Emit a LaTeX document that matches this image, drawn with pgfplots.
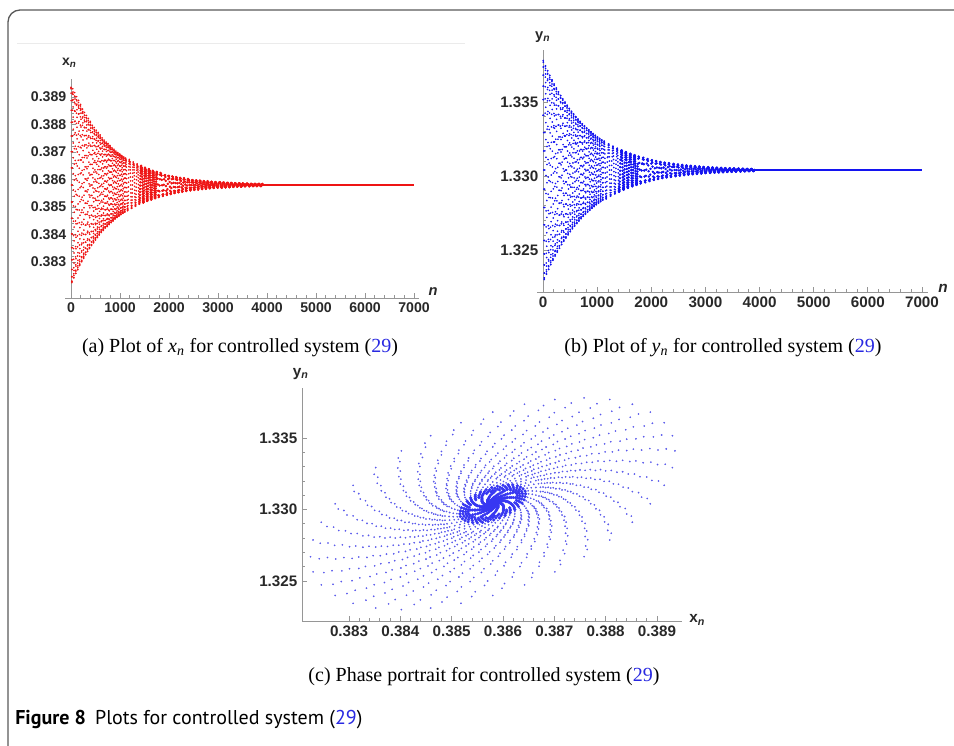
\documentclass[border=0pt]{standalone}
\usepackage{pgfplots}
\pgfplotsset{compat=1.18}
\usepackage{pgfplotstable}
\usepackage{fontspec}
\setmainfont{Liberation Serif}
\setsansfont{Liberation Sans}
\newfontfamily\capfont{PT Sans}
\definecolor{linkblue}{RGB}{40,40,225}
\definecolor{axgray}{RGB}{150,150,150}
\definecolor{ticklab}{RGB}{40,40,40}
\definecolor{dotblue}{RGB}{90,90,235}
\definecolor{dotred}{RGB}{238,20,20}
\definecolor{dotbb}{RGB}{20,20,240}

\pgfplotstableread{
n xn yn
0 0.38935 1.33410
1 0.38930 1.33516
2 0.38914 1.33607
3 0.38887 1.33681
4 0.38852 1.33736
5 0.38808 1.33769
6 0.38758 1.33780
7 0.38701 1.33769
8 0.38642 1.33736
9 0.38580 1.33681
10 0.38518 1.33607
11 0.38459 1.33516
12 0.38402 1.33410
13 0.38352 1.33293
14 0.38308 1.33169
15 0.38273 1.33040
16 0.38246 1.32911
17 0.38230 1.32787
18 0.38225 1.32670
19 0.38230 1.32564
20 0.38246 1.32473
21 0.38273 1.32399
22 0.38308 1.32344
23 0.38352 1.32311
24 0.38402 1.32300
25 0.38459 1.32311
26 0.38518 1.32344
27 0.38580 1.32399
28 0.38642 1.32473
29 0.38701 1.32564
30 0.38758 1.32670
31 0.38808 1.32787
32 0.38852 1.32911
33 0.38887 1.33040
34 0.38914 1.33169
35 0.38930 1.33293
40 0.38918 1.33424
41 0.38909 1.33521
42 0.38891 1.33603
43 0.38864 1.33668
44 0.38827 1.33714
45 0.38783 1.33740
46 0.38733 1.33744
47 0.38679 1.33727
48 0.38621 1.33689
49 0.38562 1.33631
50 0.38504 1.33555
51 0.38448 1.33464
52 0.38396 1.33360
53 0.38349 1.33246
54 0.38310 1.33126
55 0.38279 1.33003
56 0.38257 1.32881
57 0.38244 1.32764
58 0.38242 1.32656
59 0.38251 1.32559
60 0.38269 1.32477
61 0.38296 1.32412
62 0.38333 1.32366
63 0.38377 1.32340
64 0.38427 1.32336
65 0.38481 1.32353
66 0.38539 1.32391
67 0.38598 1.32449
68 0.38656 1.32525
69 0.38712 1.32616
70 0.38764 1.32720
71 0.38811 1.32834
72 0.38850 1.32954
73 0.38881 1.33077
74 0.38903 1.33199
75 0.38916 1.33316
80 0.38902 1.33416
81 0.38893 1.33508
82 0.38875 1.33584
83 0.38848 1.33645
84 0.38812 1.33687
85 0.38770 1.33710
86 0.38721 1.33712
87 0.38669 1.33693
88 0.38614 1.33655
89 0.38557 1.33598
90 0.38502 1.33524
91 0.38449 1.33436
92 0.38399 1.33335
93 0.38356 1.33226
94 0.38319 1.33111
95 0.38290 1.32993
96 0.38270 1.32877
97 0.38259 1.32766
98 0.38258 1.32664
99 0.38267 1.32572
100 0.38285 1.32496
101 0.38312 1.32435
102 0.38348 1.32393
103 0.38390 1.32370
104 0.38439 1.32368
105 0.38491 1.32387
106 0.38546 1.32425
107 0.38603 1.32482
108 0.38658 1.32556
109 0.38711 1.32644
110 0.38761 1.32745
111 0.38804 1.32854
112 0.38841 1.32969
113 0.38870 1.33087
114 0.38890 1.33203
115 0.38901 1.33314
120 0.38886 1.33426
121 0.38874 1.33509
122 0.38854 1.33578
123 0.38826 1.33630
124 0.38790 1.33664
125 0.38748 1.33680
126 0.38700 1.33677
127 0.38649 1.33653
128 0.38596 1.33611
129 0.38542 1.33552
130 0.38490 1.33477
131 0.38440 1.33389
132 0.38395 1.33291
133 0.38355 1.33184
134 0.38322 1.33073
135 0.38296 1.32962
136 0.38280 1.32853
137 0.38272 1.32749
138 0.38274 1.32654
139 0.38286 1.32571
140 0.38306 1.32502
141 0.38334 1.32450
142 0.38370 1.32416
143 0.38412 1.32400
144 0.38460 1.32403
145 0.38511 1.32427
146 0.38564 1.32469
147 0.38618 1.32528
148 0.38670 1.32603
149 0.38720 1.32691
150 0.38765 1.32789
151 0.38805 1.32896
152 0.38838 1.33007
153 0.38864 1.33118
154 0.38880 1.33227
155 0.38888 1.33331
160 0.38870 1.33416
161 0.38859 1.33494
162 0.38839 1.33558
163 0.38811 1.33606
164 0.38776 1.33638
165 0.38735 1.33650
166 0.38690 1.33645
167 0.38641 1.33621
168 0.38590 1.33580
169 0.38539 1.33521
170 0.38489 1.33449
171 0.38443 1.33364
172 0.38400 1.33269
173 0.38362 1.33167
174 0.38332 1.33061
175 0.38308 1.32955
176 0.38293 1.32851
177 0.38287 1.32753
178 0.38290 1.32664
179 0.38301 1.32586
180 0.38321 1.32522
181 0.38349 1.32474
182 0.38384 1.32442
183 0.38425 1.32430
184 0.38470 1.32435
185 0.38519 1.32459
186 0.38570 1.32500
187 0.38621 1.32559
188 0.38671 1.32631
189 0.38717 1.32716
190 0.38760 1.32811
191 0.38798 1.32913
192 0.38828 1.33019
193 0.38852 1.33125
194 0.38867 1.33229
195 0.38873 1.33327
200 0.38859 1.33340
201 0.38854 1.33422
202 0.38841 1.33492
203 0.38819 1.33549
204 0.38791 1.33591
205 0.38755 1.33615
206 0.38715 1.33622
207 0.38671 1.33612
208 0.38624 1.33584
209 0.38575 1.33539
210 0.38527 1.33479
211 0.38480 1.33406
212 0.38436 1.33322
213 0.38397 1.33230
214 0.38363 1.33131
215 0.38336 1.33030
216 0.38316 1.32929
217 0.38304 1.32832
218 0.38301 1.32740
219 0.38306 1.32658
220 0.38319 1.32588
221 0.38341 1.32531
222 0.38369 1.32489
223 0.38405 1.32465
224 0.38445 1.32458
225 0.38489 1.32468
226 0.38536 1.32496
227 0.38585 1.32541
228 0.38633 1.32601
229 0.38680 1.32674
230 0.38724 1.32758
231 0.38763 1.32850
232 0.38797 1.32949
233 0.38824 1.33050
234 0.38844 1.33151
235 0.38856 1.33248
240 0.38847 1.33335
241 0.38841 1.33412
242 0.38828 1.33478
243 0.38806 1.33531
244 0.38778 1.33569
245 0.38744 1.33590
246 0.38705 1.33595
247 0.38663 1.33584
248 0.38617 1.33555
249 0.38571 1.33511
250 0.38524 1.33453
251 0.38480 1.33382
252 0.38438 1.33301
253 0.38401 1.33212
254 0.38370 1.33117
255 0.38344 1.33021
256 0.38326 1.32924
257 0.38316 1.32832
258 0.38313 1.32745
259 0.38319 1.32668
260 0.38332 1.32602
261 0.38354 1.32549
262 0.38382 1.32511
263 0.38416 1.32490
264 0.38455 1.32485
265 0.38497 1.32496
266 0.38543 1.32525
267 0.38589 1.32569
268 0.38636 1.32627
269 0.38680 1.32698
270 0.38722 1.32779
271 0.38759 1.32868
272 0.38790 1.32963
273 0.38816 1.33059
274 0.38834 1.33156
275 0.38844 1.33248
280 0.38833 1.33344
281 0.38825 1.33415
282 0.38810 1.33474
283 0.38788 1.33520
284 0.38760 1.33552
285 0.38726 1.33568
286 0.38687 1.33568
287 0.38646 1.33552
288 0.38602 1.33520
289 0.38558 1.33474
290 0.38514 1.33415
291 0.38473 1.33344
292 0.38434 1.33264
293 0.38400 1.33177
294 0.38372 1.33086
295 0.38350 1.32994
296 0.38335 1.32903
297 0.38327 1.32816
298 0.38327 1.32736
299 0.38335 1.32665
300 0.38350 1.32606
301 0.38372 1.32560
302 0.38400 1.32528
303 0.38434 1.32512
304 0.38473 1.32512
305 0.38514 1.32528
306 0.38558 1.32560
307 0.38602 1.32606
308 0.38646 1.32665
309 0.38687 1.32736
310 0.38726 1.32816
311 0.38760 1.32903
312 0.38788 1.32994
313 0.38810 1.33086
314 0.38825 1.33177
315 0.38833 1.33264
320 0.38821 1.33337
321 0.38813 1.33403
322 0.38798 1.33459
323 0.38776 1.33502
324 0.38748 1.33530
325 0.38715 1.33544
326 0.38678 1.33542
327 0.38639 1.33525
328 0.38597 1.33494
329 0.38555 1.33449
330 0.38513 1.33391
331 0.38474 1.33322
332 0.38438 1.33246
333 0.38406 1.33162
334 0.38379 1.33075
335 0.38359 1.32987
336 0.38345 1.32901
337 0.38338 1.32819
338 0.38339 1.32743
339 0.38347 1.32677
340 0.38362 1.32621
341 0.38384 1.32578
342 0.38412 1.32550
343 0.38445 1.32536
344 0.38482 1.32538
345 0.38521 1.32555
346 0.38563 1.32586
347 0.38605 1.32631
348 0.38647 1.32689
349 0.38686 1.32758
350 0.38722 1.32834
351 0.38754 1.32918
352 0.38781 1.33005
353 0.38801 1.33093
354 0.38815 1.33179
355 0.38822 1.33261
360 0.38808 1.33343
361 0.38799 1.33403
362 0.38782 1.33452
363 0.38759 1.33489
364 0.38732 1.33512
365 0.38699 1.33521
366 0.38663 1.33515
367 0.38624 1.33495
368 0.38584 1.33461
369 0.38544 1.33414
370 0.38505 1.33356
371 0.38468 1.33288
372 0.38435 1.33212
373 0.38406 1.33132
374 0.38382 1.33048
375 0.38364 1.32965
376 0.38353 1.32883
377 0.38349 1.32807
378 0.38352 1.32737
379 0.38361 1.32677
380 0.38378 1.32628
381 0.38401 1.32591
382 0.38428 1.32568
383 0.38461 1.32559
384 0.38497 1.32565
385 0.38536 1.32585
386 0.38576 1.32619
387 0.38616 1.32666
388 0.38655 1.32724
389 0.38692 1.32792
390 0.38725 1.32868
391 0.38754 1.32948
392 0.38778 1.33032
393 0.38796 1.33115
394 0.38807 1.33197
395 0.38811 1.33273
400 0.38800 1.33270
401 0.38797 1.33336
402 0.38787 1.33392
403 0.38771 1.33438
404 0.38749 1.33472
405 0.38721 1.33493
406 0.38690 1.33500
407 0.38655 1.33493
408 0.38618 1.33472
409 0.38580 1.33438
410 0.38542 1.33392
411 0.38505 1.33336
412 0.38470 1.33270
413 0.38439 1.33197
414 0.38411 1.33120
415 0.38389 1.33040
416 0.38373 1.32960
417 0.38363 1.32883
418 0.38360 1.32810
419 0.38363 1.32744
420 0.38373 1.32688
421 0.38389 1.32642
422 0.38411 1.32608
423 0.38439 1.32587
424 0.38470 1.32580
425 0.38505 1.32587
426 0.38542 1.32608
427 0.38580 1.32642
428 0.38618 1.32688
429 0.38655 1.32744
430 0.38690 1.32810
431 0.38721 1.32883
432 0.38749 1.32960
433 0.38771 1.33040
434 0.38787 1.33120
435 0.38797 1.33197
440 0.38790 1.33279
441 0.38785 1.33339
442 0.38773 1.33390
443 0.38756 1.33430
444 0.38734 1.33459
445 0.38706 1.33475
446 0.38675 1.33478
447 0.38641 1.33467
448 0.38606 1.33443
449 0.38569 1.33407
450 0.38533 1.33360
451 0.38498 1.33304
452 0.38466 1.33239
453 0.38437 1.33168
454 0.38412 1.33093
455 0.38393 1.33017
456 0.38379 1.32941
457 0.38371 1.32869
458 0.38370 1.32801
459 0.38375 1.32741
460 0.38387 1.32690
461 0.38404 1.32650
462 0.38426 1.32621
463 0.38454 1.32605
464 0.38485 1.32602
465 0.38519 1.32613
466 0.38554 1.32637
467 0.38591 1.32673
468 0.38627 1.32720
469 0.38662 1.32776
470 0.38694 1.32841
471 0.38723 1.32912
472 0.38748 1.32987
473 0.38767 1.33063
474 0.38781 1.33139
475 0.38789 1.33211
480 0.38780 1.33273
481 0.38774 1.33330
482 0.38763 1.33377
483 0.38746 1.33415
484 0.38724 1.33441
485 0.38698 1.33455
486 0.38668 1.33456
487 0.38635 1.33444
488 0.38601 1.33421
489 0.38566 1.33386
490 0.38532 1.33340
491 0.38499 1.33285
492 0.38468 1.33223
493 0.38441 1.33155
494 0.38418 1.33084
495 0.38400 1.33011
496 0.38388 1.32939
497 0.38381 1.32870
498 0.38380 1.32807
499 0.38386 1.32750
500 0.38397 1.32703
501 0.38414 1.32665
502 0.38436 1.32639
503 0.38462 1.32625
504 0.38492 1.32624
505 0.38525 1.32636
506 0.38559 1.32659
507 0.38594 1.32694
508 0.38628 1.32740
509 0.38661 1.32795
510 0.38692 1.32857
511 0.38719 1.32925
512 0.38742 1.32996
513 0.38760 1.33069
514 0.38772 1.33141
515 0.38779 1.33210
520 0.38770 1.33279
521 0.38763 1.33330
522 0.38750 1.33373
523 0.38733 1.33406
524 0.38710 1.33427
525 0.38684 1.33437
526 0.38655 1.33434
527 0.38623 1.33420
528 0.38590 1.33394
529 0.38557 1.33357
530 0.38524 1.33311
531 0.38493 1.33256
532 0.38465 1.33195
533 0.38440 1.33129
534 0.38420 1.33061
535 0.38404 1.32992
536 0.38394 1.32924
537 0.38389 1.32860
538 0.38390 1.32801
539 0.38397 1.32750
540 0.38410 1.32707
541 0.38427 1.32674
542 0.38450 1.32653
543 0.38476 1.32643
544 0.38505 1.32646
545 0.38537 1.32660
546 0.38570 1.32686
547 0.38603 1.32723
548 0.38636 1.32769
549 0.38667 1.32824
550 0.38695 1.32885
551 0.38720 1.32951
552 0.38740 1.33019
553 0.38756 1.33088
554 0.38766 1.33156
555 0.38771 1.33220
560 0.38760 1.33274
561 0.38753 1.33322
562 0.38741 1.33362
563 0.38723 1.33392
564 0.38702 1.33412
565 0.38676 1.33420
566 0.38648 1.33416
567 0.38618 1.33401
568 0.38586 1.33376
569 0.38555 1.33339
570 0.38524 1.33294
571 0.38495 1.33241
572 0.38468 1.33183
573 0.38445 1.33119
574 0.38426 1.33053
575 0.38411 1.32987
576 0.38402 1.32923
577 0.38398 1.32862
578 0.38400 1.32806
579 0.38407 1.32758
580 0.38419 1.32718
581 0.38437 1.32688
582 0.38458 1.32668
583 0.38484 1.32660
584 0.38512 1.32664
585 0.38542 1.32679
586 0.38574 1.32704
587 0.38605 1.32741
588 0.38636 1.32786
589 0.38665 1.32839
590 0.38692 1.32897
591 0.38715 1.32961
592 0.38734 1.33027
593 0.38749 1.33093
594 0.38758 1.33157
595 0.38762 1.33218
600 0.38753 1.33226
601 0.38750 1.33277
602 0.38742 1.33321
603 0.38728 1.33357
604 0.38711 1.33382
605 0.38689 1.33398
606 0.38664 1.33402
607 0.38636 1.33395
608 0.38607 1.33378
609 0.38577 1.33350
610 0.38547 1.33313
611 0.38518 1.33268
612 0.38491 1.33216
613 0.38467 1.33158
614 0.38446 1.33096
615 0.38429 1.33034
616 0.38416 1.32971
617 0.38409 1.32910
618 0.38407 1.32854
619 0.38410 1.32803
620 0.38418 1.32759
621 0.38432 1.32723
622 0.38449 1.32698
623 0.38471 1.32682
624 0.38496 1.32678
625 0.38524 1.32685
626 0.38553 1.32702
627 0.38583 1.32730
628 0.38613 1.32767
629 0.38642 1.32812
630 0.38669 1.32864
631 0.38693 1.32922
632 0.38714 1.32984
633 0.38731 1.33046
634 0.38744 1.33109
635 0.38751 1.33170
640 0.38745 1.33223
641 0.38741 1.33271
642 0.38733 1.33312
643 0.38720 1.33345
644 0.38703 1.33368
645 0.38682 1.33382
646 0.38657 1.33385
647 0.38631 1.33377
648 0.38603 1.33360
649 0.38574 1.33333
650 0.38546 1.33296
651 0.38518 1.33253
652 0.38493 1.33202
653 0.38470 1.33147
654 0.38450 1.33088
655 0.38434 1.33028
656 0.38423 1.32968
657 0.38417 1.32911
658 0.38415 1.32857
659 0.38419 1.32809
660 0.38427 1.32768
661 0.38440 1.32735
662 0.38457 1.32712
663 0.38478 1.32698
664 0.38503 1.32695
665 0.38529 1.32703
666 0.38557 1.32720
667 0.38586 1.32747
668 0.38614 1.32784
669 0.38642 1.32827
670 0.38667 1.32878
671 0.38690 1.32933
672 0.38710 1.32992
673 0.38726 1.33052
674 0.38737 1.33112
675 0.38743 1.33169
680 0.38736 1.33229
681 0.38732 1.33273
682 0.38722 1.33309
683 0.38709 1.33338
684 0.38691 1.33358
685 0.38670 1.33368
686 0.38646 1.33368
687 0.38621 1.33358
688 0.38594 1.33338
689 0.38566 1.33309
690 0.38539 1.33273
691 0.38514 1.33229
692 0.38490 1.33179
693 0.38469 1.33125
694 0.38451 1.33069
695 0.38438 1.33011
696 0.38428 1.32955
697 0.38424 1.32901
698 0.38424 1.32851
699 0.38428 1.32807
700 0.38438 1.32771
701 0.38451 1.32742
702 0.38469 1.32722
703 0.38490 1.32712
704 0.38514 1.32712
705 0.38539 1.32722
706 0.38566 1.32742
707 0.38594 1.32771
708 0.38621 1.32807
709 0.38646 1.32851
710 0.38670 1.32901
711 0.38691 1.32955
712 0.38709 1.33011
713 0.38722 1.33069
714 0.38732 1.33125
715 0.38736 1.33179
720 0.38730 1.33225
721 0.38725 1.33266
722 0.38716 1.33300
723 0.38702 1.33327
724 0.38685 1.33345
725 0.38664 1.33353
726 0.38641 1.33352
727 0.38617 1.33342
728 0.38591 1.33322
729 0.38564 1.33294
730 0.38538 1.33258
731 0.38514 1.33216
732 0.38491 1.33168
733 0.38471 1.33116
734 0.38455 1.33062
735 0.38442 1.33007
736 0.38434 1.32953
737 0.38429 1.32902
738 0.38430 1.32855
739 0.38435 1.32814
740 0.38444 1.32780
741 0.38458 1.32753
742 0.38475 1.32735
743 0.38496 1.32727
744 0.38519 1.32728
745 0.38543 1.32738
746 0.38569 1.32758
747 0.38596 1.32786
748 0.38622 1.32822
749 0.38646 1.32864
750 0.38669 1.32912
751 0.38689 1.32964
752 0.38705 1.33018
753 0.38718 1.33073
754 0.38726 1.33127
755 0.38731 1.33178
760 0.38722 1.33228
761 0.38716 1.33266
762 0.38706 1.33296
763 0.38692 1.33319
764 0.38674 1.33334
765 0.38654 1.33339
766 0.38632 1.33335
767 0.38607 1.33323
768 0.38582 1.33302
769 0.38558 1.33272
770 0.38533 1.33236
771 0.38510 1.33194
772 0.38489 1.33147
773 0.38471 1.33097
774 0.38457 1.33045
775 0.38446 1.32993
776 0.38439 1.32943
777 0.38436 1.32895
778 0.38438 1.32852
779 0.38444 1.32814
780 0.38454 1.32784
781 0.38468 1.32761
782 0.38486 1.32746
783 0.38506 1.32741
784 0.38528 1.32745
785 0.38553 1.32757
786 0.38578 1.32778
787 0.38602 1.32808
788 0.38627 1.32844
789 0.38650 1.32886
790 0.38671 1.32933
791 0.38689 1.32983
792 0.38703 1.33035
793 0.38714 1.33087
794 0.38721 1.33137
795 0.38724 1.33185
800 0.38717 1.33183
801 0.38715 1.33223
802 0.38709 1.33258
803 0.38699 1.33287
804 0.38685 1.33308
805 0.38668 1.33321
806 0.38649 1.33325
807 0.38627 1.33321
808 0.38604 1.33308
809 0.38580 1.33287
810 0.38556 1.33258
811 0.38533 1.33223
812 0.38511 1.33183
813 0.38492 1.33137
814 0.38475 1.33090
815 0.38461 1.33040
816 0.38451 1.32990
817 0.38445 1.32943
818 0.38443 1.32897
819 0.38445 1.32857
820 0.38451 1.32822
821 0.38461 1.32793
822 0.38475 1.32772
823 0.38492 1.32759
824 0.38511 1.32755
825 0.38533 1.32759
826 0.38556 1.32772
827 0.38580 1.32793
828 0.38604 1.32822
829 0.38627 1.32857
830 0.38649 1.32897
831 0.38668 1.32943
832 0.38685 1.32990
833 0.38699 1.33040
834 0.38709 1.33090
835 0.38715 1.33137
840 0.38711 1.33188
841 0.38708 1.33226
842 0.38701 1.33257
843 0.38690 1.33282
844 0.38676 1.33300
845 0.38659 1.33310
846 0.38639 1.33312
847 0.38618 1.33305
848 0.38596 1.33291
849 0.38573 1.33268
850 0.38551 1.33239
851 0.38529 1.33204
852 0.38509 1.33163
853 0.38491 1.33119
854 0.38475 1.33073
855 0.38463 1.33026
856 0.38455 1.32979
857 0.38450 1.32934
858 0.38449 1.32892
859 0.38452 1.32854
860 0.38459 1.32823
861 0.38470 1.32798
862 0.38484 1.32780
863 0.38501 1.32770
864 0.38521 1.32768
865 0.38542 1.32775
866 0.38564 1.32789
867 0.38587 1.32812
868 0.38609 1.32841
869 0.38631 1.32876
870 0.38651 1.32917
871 0.38669 1.32961
872 0.38685 1.33007
873 0.38697 1.33054
874 0.38705 1.33101
875 0.38710 1.33146
880 0.38704 1.33185
881 0.38700 1.33220
882 0.38693 1.33250
883 0.38683 1.33273
884 0.38669 1.33289
885 0.38653 1.33298
886 0.38634 1.33298
887 0.38614 1.33291
888 0.38593 1.33277
889 0.38571 1.33255
890 0.38550 1.33226
891 0.38530 1.33192
892 0.38511 1.33153
893 0.38494 1.33111
894 0.38480 1.33067
895 0.38469 1.33022
896 0.38461 1.32977
897 0.38457 1.32935
898 0.38456 1.32895
899 0.38460 1.32860
900 0.38467 1.32830
901 0.38477 1.32807
902 0.38491 1.32791
903 0.38507 1.32782
904 0.38526 1.32782
905 0.38546 1.32789
906 0.38567 1.32803
907 0.38589 1.32825
908 0.38610 1.32854
909 0.38630 1.32888
910 0.38649 1.32927
911 0.38666 1.32969
912 0.38680 1.33013
913 0.38691 1.33058
914 0.38699 1.33103
915 0.38703 1.33145
920 0.38697 1.33189
921 0.38693 1.33221
922 0.38685 1.33247
923 0.38674 1.33267
924 0.38660 1.33281
925 0.38644 1.33287
926 0.38626 1.33285
927 0.38607 1.33276
928 0.38586 1.33260
929 0.38566 1.33237
930 0.38546 1.33208
931 0.38526 1.33175
932 0.38509 1.33137
933 0.38494 1.33096
934 0.38481 1.33053
935 0.38471 1.33010
936 0.38465 1.32968
937 0.38462 1.32928
938 0.38463 1.32891
939 0.38467 1.32859
940 0.38475 1.32833
941 0.38486 1.32813
942 0.38500 1.32799
943 0.38516 1.32793
944 0.38534 1.32795
945 0.38553 1.32804
946 0.38574 1.32820
947 0.38594 1.32843
948 0.38614 1.32872
949 0.38634 1.32905
950 0.38651 1.32943
951 0.38666 1.32984
952 0.38679 1.33027
953 0.38689 1.33070
954 0.38695 1.33112
955 0.38698 1.33152
960 0.38692 1.33185
961 0.38687 1.33215
962 0.38680 1.33239
963 0.38669 1.33258
964 0.38656 1.33270
965 0.38640 1.33275
966 0.38622 1.33273
967 0.38604 1.33263
968 0.38584 1.33248
969 0.38564 1.33225
970 0.38545 1.33197
971 0.38527 1.33165
972 0.38510 1.33128
973 0.38496 1.33089
974 0.38484 1.33048
975 0.38475 1.33007
976 0.38469 1.32967
977 0.38467 1.32930
978 0.38468 1.32895
979 0.38473 1.32865
980 0.38480 1.32841
981 0.38491 1.32822
982 0.38504 1.32810
983 0.38520 1.32805
984 0.38538 1.32807
985 0.38556 1.32817
986 0.38576 1.32832
987 0.38596 1.32855
988 0.38615 1.32883
989 0.38633 1.32915
990 0.38650 1.32952
991 0.38664 1.32991
992 0.38676 1.33032
993 0.38685 1.33073
994 0.38691 1.33113
995 0.38693 1.33150
1000 0.38688 1.33155
1001 0.38686 1.33187
1002 0.38681 1.33214
1003 0.38673 1.33236
1004 0.38662 1.33252
1005 0.38648 1.33261
1006 0.38632 1.33264
1007 0.38615 1.33260
1008 0.38597 1.33249
1009 0.38578 1.33232
1010 0.38559 1.33209
1011 0.38541 1.33181
1012 0.38524 1.33149
1013 0.38509 1.33113
1014 0.38496 1.33075
1015 0.38485 1.33036
1016 0.38478 1.32997
1017 0.38473 1.32960
1018 0.38472 1.32925
1019 0.38474 1.32893
1020 0.38479 1.32866
1021 0.38487 1.32844
1022 0.38498 1.32828
1023 0.38512 1.32819
1024 0.38528 1.32816
1025 0.38545 1.32820
1026 0.38563 1.32831
1027 0.38582 1.32848
1028 0.38601 1.32871
1029 0.38619 1.32899
1030 0.38636 1.32931
1031 0.38651 1.32967
1032 0.38664 1.33005
1033 0.38675 1.33044
1034 0.38682 1.33083
1035 0.38687 1.33120
1040 0.38683 1.33153
1041 0.38681 1.33183
1042 0.38675 1.33209
1043 0.38667 1.33229
1044 0.38657 1.33244
1045 0.38643 1.33252
1046 0.38628 1.33254
1047 0.38612 1.33249
1048 0.38594 1.33238
1049 0.38576 1.33221
1050 0.38559 1.33199
1051 0.38541 1.33172
1052 0.38525 1.33140
1053 0.38511 1.33106
1054 0.38499 1.33070
1055 0.38489 1.33033
1056 0.38482 1.32995
1057 0.38478 1.32960
1058 0.38477 1.32927
1059 0.38479 1.32897
1060 0.38485 1.32871
1061 0.38493 1.32851
1062 0.38503 1.32836
1063 0.38517 1.32828
1064 0.38532 1.32826
1065 0.38548 1.32831
1066 0.38566 1.32842
1067 0.38584 1.32859
1068 0.38601 1.32881
1069 0.38619 1.32908
1070 0.38635 1.32940
1071 0.38649 1.32974
1072 0.38661 1.33010
1073 0.38671 1.33047
1074 0.38678 1.33085
1075 0.38682 1.33120
1080 0.38678 1.33157
1081 0.38675 1.33184
1082 0.38669 1.33207
1083 0.38660 1.33225
1084 0.38649 1.33237
1085 0.38636 1.33243
1086 0.38621 1.33243
1087 0.38605 1.33237
1088 0.38589 1.33225
1089 0.38571 1.33207
1090 0.38555 1.33184
1091 0.38539 1.33157
1092 0.38524 1.33126
1093 0.38511 1.33093
1094 0.38500 1.33058
1095 0.38491 1.33022
1096 0.38485 1.32987
1097 0.38482 1.32954
1098 0.38482 1.32923
1099 0.38485 1.32896
1100 0.38491 1.32873
1101 0.38500 1.32855
1102 0.38511 1.32843
1103 0.38524 1.32837
1104 0.38539 1.32837
1105 0.38555 1.32843
1106 0.38571 1.32855
1107 0.38589 1.32873
1108 0.38605 1.32896
1109 0.38621 1.32923
1110 0.38636 1.32954
1111 0.38649 1.32987
1112 0.38660 1.33022
1113 0.38669 1.33058
1114 0.38675 1.33093
1115 0.38678 1.33126
1120 0.38673 1.33155
1122 0.38669 1.33180
1124 0.38664 1.33202
1126 0.38655 1.33218
1128 0.38645 1.33229
1130 0.38632 1.33235
1132 0.38618 1.33234
1134 0.38603 1.33227
1136 0.38587 1.33215
1138 0.38570 1.33198
1140 0.38554 1.33176
1142 0.38539 1.33149
1144 0.38525 1.33119
1146 0.38513 1.33087
1148 0.38503 1.33054
1150 0.38495 1.33020
1152 0.38490 1.32986
1154 0.38487 1.32955
1156 0.38487 1.32925
1158 0.38491 1.32900
1160 0.38496 1.32878
1162 0.38505 1.32862
1164 0.38515 1.32851
1166 0.38528 1.32845
1168 0.38542 1.32846
1170 0.38557 1.32853
1172 0.38573 1.32865
1174 0.38590 1.32882
1176 0.38606 1.32904
1178 0.38621 1.32931
1180 0.38635 1.32961
1182 0.38647 1.32993
1184 0.38657 1.33026
1186 0.38665 1.33060
1188 0.38670 1.33094
1190 0.38673 1.33125
1200 0.38665 1.33129
1202 0.38664 1.33154
1204 0.38660 1.33176
1206 0.38654 1.33193
1208 0.38645 1.33206
1210 0.38635 1.33214
1212 0.38623 1.33217
1214 0.38609 1.33214
1216 0.38595 1.33206
1218 0.38580 1.33193
1220 0.38565 1.33176
1222 0.38551 1.33154
1224 0.38537 1.33129
1226 0.38525 1.33101
1228 0.38515 1.33071
1230 0.38506 1.33040
1232 0.38500 1.33009
1234 0.38496 1.32979
1236 0.38495 1.32951
1238 0.38496 1.32926
1240 0.38500 1.32904
1242 0.38506 1.32887
1244 0.38515 1.32874
1246 0.38525 1.32866
1248 0.38537 1.32863
1250 0.38551 1.32866
1252 0.38565 1.32874
1254 0.38580 1.32887
1256 0.38595 1.32904
1258 0.38609 1.32926
1260 0.38623 1.32951
1262 0.38635 1.32979
1264 0.38645 1.33009
1266 0.38654 1.33040
1268 0.38660 1.33071
1270 0.38664 1.33101
1280 0.38657 1.33130
1282 0.38655 1.33152
1284 0.38650 1.33170
1286 0.38644 1.33185
1288 0.38635 1.33195
1290 0.38625 1.33200
1292 0.38614 1.33201
1294 0.38601 1.33196
1296 0.38588 1.33187
1298 0.38575 1.33173
1300 0.38561 1.33156
1302 0.38549 1.33135
1304 0.38537 1.33111
1306 0.38526 1.33084
1308 0.38518 1.33057
1310 0.38511 1.33029
1312 0.38506 1.33001
1314 0.38503 1.32974
1316 0.38503 1.32950
1318 0.38505 1.32928
1320 0.38510 1.32910
1322 0.38516 1.32895
1324 0.38525 1.32885
1326 0.38535 1.32880
1328 0.38546 1.32879
1330 0.38559 1.32884
1332 0.38572 1.32893
1334 0.38585 1.32907
1336 0.38599 1.32924
1338 0.38611 1.32945
1340 0.38623 1.32969
1342 0.38634 1.32996
1344 0.38642 1.33023
1346 0.38649 1.33051
1348 0.38654 1.33079
1350 0.38657 1.33106
1360 0.38649 1.33131
1362 0.38647 1.33149
1364 0.38642 1.33165
1366 0.38635 1.33176
1368 0.38627 1.33184
1370 0.38617 1.33187
1372 0.38606 1.33186
1374 0.38595 1.33180
1376 0.38582 1.33170
1378 0.38570 1.33156
1380 0.38558 1.33138
1382 0.38547 1.33118
1384 0.38537 1.33095
1386 0.38528 1.33071
1388 0.38521 1.33045
1390 0.38515 1.33020
1392 0.38512 1.32995
1394 0.38510 1.32971
1396 0.38511 1.32949
1398 0.38513 1.32931
1400 0.38518 1.32915
1402 0.38525 1.32904
1404 0.38533 1.32896
1406 0.38543 1.32893
1408 0.38554 1.32894
1410 0.38565 1.32900
1412 0.38578 1.32910
1414 0.38590 1.32924
1416 0.38602 1.32942
1418 0.38613 1.32962
1420 0.38623 1.32985
1422 0.38632 1.33009
1424 0.38639 1.33035
1426 0.38645 1.33060
1428 0.38648 1.33085
1430 0.38650 1.33109
1440 0.38644 1.33110
1442 0.38643 1.33129
1444 0.38639 1.33145
1446 0.38634 1.33157
1448 0.38628 1.33166
1450 0.38619 1.33172
1452 0.38610 1.33173
1454 0.38600 1.33170
1456 0.38589 1.33163
1458 0.38578 1.33153
1460 0.38567 1.33139
1462 0.38556 1.33122
1464 0.38546 1.33102
1466 0.38537 1.33081
1468 0.38530 1.33058
1470 0.38523 1.33035
1472 0.38519 1.33012
1474 0.38517 1.32990
1476 0.38516 1.32970
1478 0.38517 1.32951
1480 0.38521 1.32935
1482 0.38526 1.32923
1484 0.38532 1.32914
1486 0.38541 1.32908
1488 0.38550 1.32907
1490 0.38560 1.32910
1492 0.38571 1.32917
1494 0.38582 1.32927
1496 0.38593 1.32941
1498 0.38604 1.32958
1500 0.38614 1.32978
1502 0.38623 1.32999
1504 0.38630 1.33022
1506 0.38637 1.33045
1508 0.38641 1.33068
1510 0.38643 1.33090
1520 0.38638 1.33111
1522 0.38636 1.33127
1524 0.38632 1.33140
1526 0.38627 1.33151
1528 0.38620 1.33157
1530 0.38612 1.33161
1532 0.38604 1.33160
1534 0.38594 1.33156
1536 0.38584 1.33149
1538 0.38574 1.33138
1540 0.38564 1.33124
1542 0.38555 1.33108
1544 0.38546 1.33089
1546 0.38538 1.33069
1548 0.38532 1.33048
1550 0.38527 1.33027
1552 0.38524 1.33007
1554 0.38522 1.32987
1556 0.38522 1.32969
1558 0.38524 1.32953
1560 0.38528 1.32940
1562 0.38533 1.32929
1564 0.38540 1.32923
1566 0.38548 1.32919
1568 0.38556 1.32920
1570 0.38566 1.32924
1572 0.38576 1.32931
1574 0.38586 1.32942
1576 0.38596 1.32956
1578 0.38605 1.32972
1580 0.38614 1.32991
1582 0.38622 1.33011
1584 0.38628 1.33032
1586 0.38633 1.33053
1588 0.38636 1.33073
1590 0.38638 1.33093
1600 0.38633 1.33095
1602 0.38632 1.33111
1604 0.38630 1.33124
1606 0.38626 1.33135
1608 0.38621 1.33143
1610 0.38614 1.33148
1612 0.38607 1.33150
1614 0.38598 1.33148
1616 0.38589 1.33143
1618 0.38580 1.33135
1620 0.38571 1.33124
1622 0.38562 1.33111
1624 0.38553 1.33095
1626 0.38546 1.33078
1628 0.38539 1.33059
1630 0.38534 1.33040
1632 0.38530 1.33021
1634 0.38528 1.33002
1636 0.38527 1.32985
1638 0.38528 1.32969
1640 0.38530 1.32956
1642 0.38534 1.32945
1644 0.38539 1.32937
1646 0.38546 1.32932
1648 0.38553 1.32930
1650 0.38562 1.32932
1652 0.38571 1.32937
1654 0.38580 1.32945
1656 0.38589 1.32956
1658 0.38598 1.32969
1660 0.38607 1.32985
1662 0.38614 1.33002
1664 0.38621 1.33021
1666 0.38626 1.33040
1668 0.38630 1.33059
1670 0.38632 1.33078
1680 0.38628 1.33096
1682 0.38627 1.33110
1684 0.38624 1.33121
1686 0.38620 1.33130
1688 0.38615 1.33136
1690 0.38608 1.33140
1692 0.38601 1.33140
1694 0.38593 1.33137
1696 0.38585 1.33131
1698 0.38577 1.33123
1700 0.38568 1.33112
1702 0.38560 1.33099
1704 0.38553 1.33084
1706 0.38547 1.33068
1708 0.38541 1.33051
1710 0.38537 1.33033
1712 0.38534 1.33016
1714 0.38532 1.32999
1716 0.38532 1.32984
1718 0.38533 1.32970
1720 0.38536 1.32959
1722 0.38540 1.32950
1724 0.38545 1.32944
1726 0.38552 1.32940
1728 0.38559 1.32940
1730 0.38567 1.32943
1732 0.38575 1.32949
1734 0.38583 1.32957
1736 0.38592 1.32968
1738 0.38600 1.32981
1740 0.38607 1.32996
1742 0.38613 1.33012
1744 0.38619 1.33029
1746 0.38623 1.33047
1748 0.38626 1.33064
1750 0.38628 1.33081
1760 0.38619 1.33117
1766 0.38603 1.33131
1772 0.38582 1.33120
1778 0.38559 1.33088
1784 0.38543 1.33043
1790 0.38536 1.32997
1796 0.38541 1.32963
1802 0.38557 1.32949
1808 0.38578 1.32960
1814 0.38601 1.32992
1820 0.38617 1.33037
1826 0.38624 1.33083
1840 0.38620 1.33084
1846 0.38614 1.33113
1852 0.38599 1.33123
1858 0.38579 1.33110
1864 0.38559 1.33079
1870 0.38545 1.33037
1876 0.38540 1.32996
1882 0.38546 1.32967
1888 0.38561 1.32957
1894 0.38581 1.32970
1900 0.38601 1.33001
1906 0.38615 1.33043
1920 0.38616 1.33084
1926 0.38609 1.33109
1932 0.38595 1.33115
1938 0.38576 1.33101
1944 0.38559 1.33071
1950 0.38547 1.33032
1956 0.38544 1.32996
1962 0.38551 1.32971
1968 0.38565 1.32965
1974 0.38584 1.32979
1980 0.38601 1.33009
1986 0.38613 1.33048
2000 0.38613 1.33084
2006 0.38605 1.33104
2012 0.38591 1.33107
2018 0.38574 1.33092
2024 0.38559 1.33063
2030 0.38549 1.33028
2036 0.38547 1.32996
2042 0.38555 1.32976
2048 0.38569 1.32973
2054 0.38586 1.32988
2060 0.38601 1.33017
2066 0.38611 1.33052
2080 0.38609 1.33083
2086 0.38602 1.33100
2092 0.38588 1.33100
2098 0.38573 1.33085
2104 0.38559 1.33057
2110 0.38551 1.33025
2116 0.38551 1.32997
2122 0.38558 1.32980
2128 0.38572 1.32980
2134 0.38587 1.32995
2140 0.38601 1.33023
2146 0.38609 1.33055
2160 0.38606 1.33082
2166 0.38598 1.33095
2172 0.38586 1.33093
2178 0.38572 1.33077
2184 0.38560 1.33052
2190 0.38554 1.33023
2196 0.38554 1.32998
2202 0.38562 1.32985
2208 0.38574 1.32987
2214 0.38588 1.33003
2220 0.38600 1.33028
2226 0.38606 1.33057
2240 0.38603 1.33080
2246 0.38595 1.33090
2252 0.38583 1.33087
2258 0.38571 1.33071
2264 0.38560 1.33047
2270 0.38555 1.33021
2276 0.38557 1.33000
2282 0.38565 1.32990
2288 0.38577 1.32993
2294 0.38589 1.33009
2300 0.38600 1.33033
2306 0.38605 1.33059
2320 0.38600 1.33079
2326 0.38592 1.33087
2332 0.38582 1.33082
2338 0.38570 1.33066
2344 0.38562 1.33043
2350 0.38558 1.33019
2356 0.38560 1.33001
2362 0.38568 1.32993
2368 0.38578 1.32998
2374 0.38590 1.33014
2380 0.38598 1.33037
2386 0.38602 1.33061
2400 0.38600 1.33061
2406 0.38597 1.33076
2412 0.38590 1.33082
2418 0.38580 1.33076
2424 0.38570 1.33061
2430 0.38563 1.33040
2436 0.38560 1.33019
2442 0.38563 1.33004
2448 0.38570 1.32998
2454 0.38580 1.33004
2460 0.38590 1.33019
2466 0.38597 1.33040
2480 0.38598 1.33061
2486 0.38595 1.33074
2492 0.38588 1.33078
2498 0.38579 1.33072
2504 0.38570 1.33057
2510 0.38564 1.33037
2516 0.38562 1.33019
2522 0.38565 1.33006
2528 0.38572 1.33002
2534 0.38581 1.33008
2540 0.38590 1.33023
2546 0.38596 1.33043
2560 0.38597 1.33062
2566 0.38593 1.33072
2572 0.38586 1.33075
2578 0.38578 1.33068
2584 0.38570 1.33053
2590 0.38564 1.33035
2596 0.38563 1.33018
2602 0.38567 1.33008
2608 0.38574 1.33005
2614 0.38582 1.33012
2620 0.38590 1.33027
2626 0.38596 1.33045
2640 0.38595 1.33061
2646 0.38591 1.33070
2652 0.38585 1.33071
2658 0.38577 1.33064
2664 0.38570 1.33050
2670 0.38566 1.33033
2676 0.38565 1.33019
2682 0.38569 1.33010
2688 0.38575 1.33009
2694 0.38583 1.33016
2700 0.38590 1.33030
2706 0.38594 1.33047
2720 0.38593 1.33061
2726 0.38590 1.33068
2732 0.38583 1.33068
2738 0.38576 1.33060
2744 0.38570 1.33047
2750 0.38566 1.33032
2756 0.38567 1.33019
2762 0.38570 1.33012
2768 0.38577 1.33012
2774 0.38584 1.33020
2780 0.38590 1.33033
2786 0.38594 1.33048
2800 0.38591 1.33060
2806 0.38588 1.33066
2812 0.38582 1.33064
2818 0.38576 1.33057
2824 0.38571 1.33045
2830 0.38568 1.33031
2836 0.38569 1.33020
2842 0.38572 1.33014
2848 0.38578 1.33016
2854 0.38584 1.33023
2860 0.38589 1.33035
2866 0.38592 1.33049
2880 0.38590 1.33059
2886 0.38586 1.33064
2892 0.38581 1.33062
2898 0.38576 1.33054
2904 0.38571 1.33043
2910 0.38569 1.33030
2916 0.38570 1.33021
2922 0.38574 1.33016
2928 0.38579 1.33018
2934 0.38584 1.33026
2940 0.38589 1.33037
2946 0.38591 1.33050
2960 0.38589 1.33058
2966 0.38585 1.33061
2972 0.38580 1.33059
2978 0.38575 1.33051
2984 0.38572 1.33041
2990 0.38570 1.33030
2996 0.38571 1.33022
3002 0.38575 1.33019
3008 0.38580 1.33021
3014 0.38585 1.33029
3020 0.38588 1.33039
3026 0.38590 1.33050
3040 0.38590 1.33051
3046 0.38588 1.33058
3052 0.38585 1.33060
3058 0.38580 1.33057
3064 0.38575 1.33049
3070 0.38571 1.33039
3076 0.38570 1.33029
3082 0.38572 1.33022
3088 0.38575 1.33020
3094 0.38580 1.33023
3100 0.38585 1.33031
3106 0.38589 1.33041
3120 0.38589 1.33051
3126 0.38587 1.33056
3132 0.38584 1.33058
3138 0.38579 1.33055
3144 0.38575 1.33047
3150 0.38572 1.33038
3156 0.38571 1.33029
3162 0.38573 1.33024
3168 0.38576 1.33022
3174 0.38581 1.33025
3180 0.38585 1.33033
3186 0.38588 1.33042
3200 0.38588 1.33050
3206 0.38586 1.33055
3212 0.38583 1.33056
3218 0.38579 1.33052
3224 0.38575 1.33045
3230 0.38572 1.33037
3236 0.38572 1.33030
3242 0.38574 1.33025
3248 0.38577 1.33024
3254 0.38581 1.33028
3260 0.38585 1.33035
3266 0.38588 1.33043
3280 0.38587 1.33050
3286 0.38585 1.33054
3292 0.38582 1.33055
3298 0.38578 1.33051
3304 0.38575 1.33044
3310 0.38573 1.33036
3316 0.38573 1.33030
3322 0.38575 1.33026
3328 0.38578 1.33025
3334 0.38582 1.33029
3340 0.38585 1.33036
3346 0.38587 1.33044
3360 0.38586 1.33050
3366 0.38584 1.33053
3372 0.38581 1.33052
3378 0.38578 1.33049
3384 0.38576 1.33043
3390 0.38574 1.33036
3396 0.38574 1.33030
3402 0.38576 1.33027
3408 0.38579 1.33028
3414 0.38582 1.33031
3420 0.38584 1.33037
3426 0.38586 1.33044
3440 0.38586 1.33049
3446 0.38584 1.33052
3452 0.38581 1.33051
3458 0.38578 1.33047
3464 0.38575 1.33042
3470 0.38574 1.33035
3476 0.38574 1.33031
3482 0.38576 1.33028
3488 0.38579 1.33029
3494 0.38582 1.33033
3500 0.38585 1.33038
3506 0.38586 1.33045
3520 0.38584 1.33049
3526 0.38583 1.33051
3532 0.38580 1.33050
3538 0.38578 1.33046
3544 0.38576 1.33041
3550 0.38575 1.33035
3556 0.38576 1.33031
3562 0.38577 1.33029
3568 0.38580 1.33030
3574 0.38582 1.33034
3580 0.38584 1.33039
3586 0.38585 1.33045
3600 0.38585 1.33045
3606 0.38584 1.33049
3612 0.38582 1.33050
3618 0.38580 1.33049
3624 0.38578 1.33045
3630 0.38576 1.33040
3636 0.38575 1.33035
3642 0.38576 1.33031
3648 0.38578 1.33030
3654 0.38580 1.33031
3660 0.38582 1.33035
3666 0.38584 1.33040
3680 0.38584 1.33045
3686 0.38583 1.33048
3692 0.38582 1.33049
3698 0.38580 1.33047
3704 0.38578 1.33044
3710 0.38576 1.33039
3716 0.38576 1.33035
3722 0.38577 1.33032
3728 0.38578 1.33031
3734 0.38580 1.33033
3740 0.38582 1.33036
3746 0.38584 1.33041
3760 0.38584 1.33045
3766 0.38583 1.33047
3772 0.38582 1.33048
3778 0.38579 1.33046
3784 0.38578 1.33043
3790 0.38576 1.33039
3796 0.38576 1.33035
3802 0.38577 1.33033
3808 0.38578 1.33032
3814 0.38581 1.33034
3820 0.38582 1.33037
3826 0.38584 1.33041
3840 0.38584 1.33045
3846 0.38583 1.33047
3852 0.38581 1.33047
3858 0.38579 1.33045
3864 0.38577 1.33042
3870 0.38576 1.33039
3876 0.38576 1.33035
3882 0.38577 1.33033
3888 0.38579 1.33033
3894 0.38581 1.33035
3900 0.38583 1.33038
3906 0.38584 1.33041
}\data

\pgfplotsset{
  mstyle/.style={
    scale only axis,
    axis x line*=bottom, axis y line*=left,
    axis line style={axgray, line width=0.7pt, -},
    tick style={axgray, line width=0.6pt},
    tick align=inside,
    major tick length=3.8pt, minor tick length=2.2pt,
    minor x tick num=4, minor y tick num=4,
    scaled ticks=false,
    clip=false,
  }
}

\begin{document}
\begin{tikzpicture}
\useasboundingbox (0,0) rectangle (715.5pt,559.5pt);
\draw[line width=1pt, black!65, rounded corners=9pt] (6pt,-20pt) -- (6pt,552pt) -- (740pt,552pt);
\draw[black!8, line width=0.6pt] (12.75pt,527.25pt) -- (348.75pt,527.25pt);

% (a)
\begin{axis}[mstyle, at={(53.25pt,336pt)}, anchor=south west,
  width=261pt, height=164.25pt,
  xmin=0, xmax=7100, ymin=0.381691, ymax=0.389655,
  xtick={0,1000,2000,3000,4000,5000,6000,7000},
  xticklabels={0,1000,2000,3000,4000,5000,6000,7000},
  ytick={0.383,0.384,0.385,0.386,0.387,0.388,0.389},
  yticklabels={0.383,0.384,0.385,0.386,0.387,0.388,0.389},
  ticklabel style={font=\sffamily\bfseries\fontsize{10.6}{12}\selectfont, text=ticklab}]
\addplot[color=dotred, line width=0.8pt, no marks] coordinates {(3900,0.38580) (7000,0.38580)};
\addplot[only marks, mark=*, mark size=0.45pt, color=dotred, mark options={line width=0.3pt}] table[x=n, y=xn]{\data};
\addplot[only marks, mark=*, mark size=0.75pt, color=dotred, mark options={line width=0.3pt}, restrict expr to domain={\thisrow{n}}{1400:3950}] table[x=n, y=xn]{\data};
\draw[axgray, line width=0.7pt] (axis cs:-120,0.381691) -- (axis cs:0,0.381691);
\end{axis}

% (b)
\begin{axis}[mstyle, at={(407.25pt,340.5pt)}, anchor=south west,
  width=288.7pt, height=181.5pt,
  xmin=0, xmax=7110, ymin=1.32216, ymax=1.33851,
  xtick={0,1000,2000,3000,4000,5000,6000,7000},
  xticklabels={0,1000,2000,3000,4000,5000,6000,7000},
  ytick={1.325,1.330,1.335},
  yticklabels={1.325,1.330,1.335},
  ticklabel style={font=\sffamily\bfseries\fontsize{11.4}{13}\selectfont, text=ticklab}]
\addplot[color=dotbb, line width=0.8pt, no marks] coordinates {(3300,1.33040) (7000,1.33040)};
\addplot[only marks, mark=*, mark size=0.45pt, color=dotbb, mark options={line width=0.3pt}] table[x=n, y=yn]{\data};
\addplot[only marks, mark=*, mark size=0.75pt, color=dotbb, mark options={line width=0.3pt}, restrict expr to domain={\thisrow{n}}{1400:3950}] table[x=n, y=yn]{\data};
\draw[axgray, line width=0.7pt] (axis cs:-110,1.32216) -- (axis cs:0,1.32216);
\end{axis}

% (c)
\begin{axis}[mstyle, at={(226.5pt,93.75pt)}, anchor=south west,
  width=285pt, height=174.75pt,
  xmin=0.382084, xmax=0.389487, ymin=1.322203, ymax=1.338497,
  xtick={0.383,0.384,0.385,0.386,0.387,0.388,0.389},
  xticklabels={0.383,0.384,0.385,0.386,0.387,0.388,0.389},
  ytick={1.325,1.330,1.335},
  yticklabels={1.325,1.330,1.335},
  ticklabel style={font=\sffamily\bfseries\fontsize{11.4}{13}\selectfont, text=ticklab}]
\addplot[only marks, mark=*, mark size=0.5pt, color=dotblue, mark options={line width=0.25pt}] table[x=xn, y=yn]{\data};
\addplot[only marks, mark=*, mark size=1.05pt, color=dotbb!85!white, mark options={line width=0.3pt}, restrict expr to domain={\thisrow{n}}{1440:4000}] table[x=xn, y=yn]{\data};
\end{axis}

% axis labels
\node[font=\sffamily\bfseries\fontsize{10.5}{12}\selectfont, text=ticklab] at (52pt,512.5pt) {x\textsubscript{\textit{n}}};
\node[font=\sffamily\bfseries\itshape\fontsize{11}{12}\selectfont, text=ticklab] at (324.75pt,340.5pt) {n};
\node[font=\sffamily\bfseries\fontsize{11}{12}\selectfont, text=ticklab] at (407pt,531.5pt) {y\textsubscript{\textit{n}}};
\node[font=\sffamily\bfseries\itshape\fontsize{11.5}{12}\selectfont, text=ticklab] at (707.25pt,343pt) {n};
\node[font=\sffamily\bfseries\fontsize{11.5}{12}\selectfont, text=ticklab] at (225.5pt,279pt) {y\textsubscript{\textit{n}}};
\node[font=\sffamily\bfseries\fontsize{11.5}{12}\selectfont, text=ticklab] at (523pt,94.5pt) {x\textsubscript{\textit{n}}};

% captions
\node[font=\fontsize{15}{18}\selectfont] at (180pt,298.5pt) {(a) Plot of \textit{x}\textsubscript{\textit{n}} for controlled system (\textcolor{linkblue}{29})};
\node[font=\fontsize{15}{18}\selectfont] at (542.25pt,298.5pt) {(b) Plot of \textit{y}\textsubscript{\textit{n}} for controlled system (\textcolor{linkblue}{29})};
\node[font=\fontsize{15}{18}\selectfont] at (363pt,51.75pt) {(c) Phase portrait for controlled system (\textcolor{linkblue}{29})};
\node[anchor=west, inner sep=0pt, font=\capfont\fontsize{15}{18}\selectfont] at (11.25pt,19.5pt) {\textbf{Figure 8}\hspace{7pt}Plots for controlled system (\textcolor{linkblue}{29})};
\end{tikzpicture}
\end{document}
